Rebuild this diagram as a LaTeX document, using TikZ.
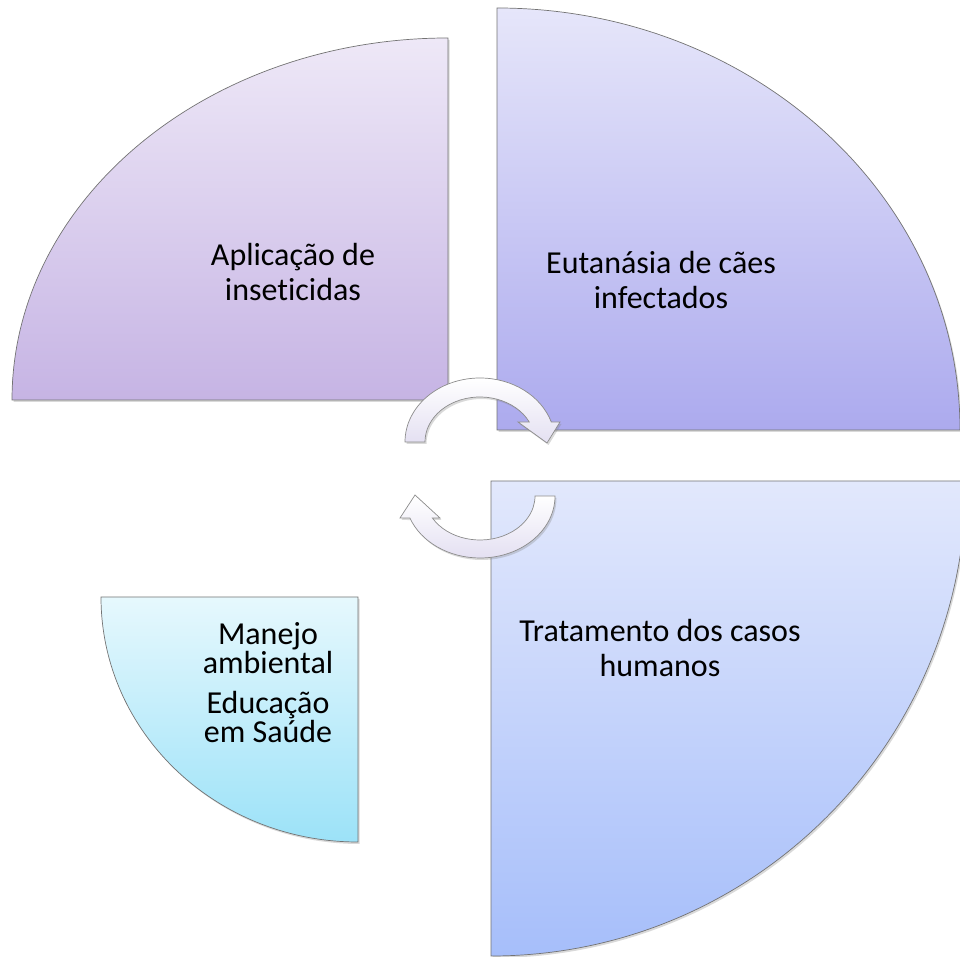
\documentclass[tikz,border=0pt]{standalone}
\usepackage{fontspec}
\setmainfont[Ligatures=NoCommon]{Carlito}
\usetikzlibrary{shadows,calc}
\definecolor{lilactop}{RGB}{238,232,247}
\definecolor{lilacbot}{RGB}{198,180,228}
\definecolor{violettop}{RGB}{230,230,250}
\definecolor{violetbot}{RGB}{172,170,238}
\definecolor{bluetop}{RGB}{226,232,252}
\definecolor{bluebot}{RGB}{166,190,250}
\definecolor{cyantop}{RGB}{230,248,253}
\definecolor{cyanbot}{RGB}{156,226,248}
\definecolor{arrowbot}{RGB}{228,224,242}
\tikzset{
        wedge/.style={draw=black!55, line width=0.7pt, drop shadow={opacity=0.3, shadow xshift=1.5pt, shadow yshift=-2pt}},
        lilac/.style={wedge, top color=lilactop, bottom color=lilacbot},
        violet/.style={wedge, top color=violettop, bottom color=violetbot},
        blue/.style={wedge, top color=bluetop, bottom color=bluebot},
        cyan/.style={wedge, top color=cyantop, bottom color=cyanbot},
        cyclearrow/.style={draw=black!45, line width=0.7pt, top color=white, bottom color=arrowbot, drop shadow={opacity=0.3, shadow xshift=1.5pt, shadow yshift=-2pt}},
        wedgetext/.style={align=center, inner sep=0pt, font=\fontsize{32}{35}\selectfont},
        smalltext/.style={align=center, inner sep=0pt, font=\fontsize{32}{29}\selectfont}
          }
\begin{document}
\begin{tikzpicture}[x=1pt, y=1pt]
        \useasboundingbox (0,0) rectangle (960,957);
        \clip (0,0) rectangle (960,957);
        % the four quarters
        \path[lilac] (448,557) -- (12,557) arc[start angle=180, end angle=90, x radius=436, y radius=362] -- cycle;
        \path[violet] (497,527) -- (497,949) arc[start angle=90, end angle=0, x radius=463, y radius=422] -- cycle;
        \path[blue] (491,476) -- (966,476) arc[start angle=0, end angle=-90, radius=475] -- cycle;
        \path[cyan] (358,360) -- (358,115) arc[start angle=270, end angle=180, x radius=257, y radius=245] -- cycle;
        % the two turning arrows
        \coordinate (topc) at (480,515);
        \coordinate (botc) at (480,461);
        \path[cyclearrow] ($(topc)+(180:75 and 64)$) arc[start angle=180, end angle=18.2, x radius=75, y radius=64]
          -- (560,535) -- (547,514) -- (518,535)
          -- ($(topc)+(26.4:55 and 45)$) arc[start angle=26.4, end angle=180, x radius=55, y radius=45] -- cycle;
        \path[cyclearrow] ($(botc)+(0:75 and 62)$) arc[start angle=0, end angle=-159.2, x radius=75, y radius=62]
          -- (400,439) -- (415,462) -- (440,439)
          -- ($(botc)+(-150:55 and 44)$) arc[start angle=-150, end angle=0, x radius=55, y radius=44] -- cycle;
        \node[wedgetext] (aplic) at (293,685) {Aplicação de\\inseticidas};
        \node[wedgetext] (eutan) at (661,677) {Eutanásia de cães\\infectados};
        \node[wedgetext] (trat) at (660,309) {Tratamento dos casos\\humanos};
        \node[smalltext] (manejo) at (268,274) {Manejo\\ambiental\\[11pt]Educação\\em Saúde};
\end{tikzpicture}
\end{document}
